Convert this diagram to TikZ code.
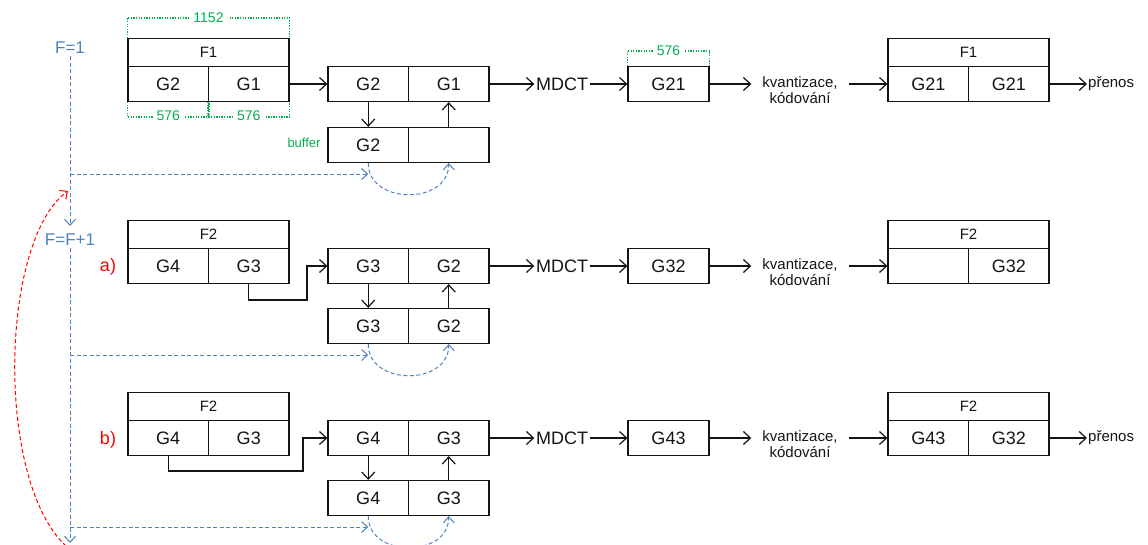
\documentclass[tikz,border=0pt]{standalone}
\usepackage{fontspec}
\setmainfont{Liberation Sans}
\usetikzlibrary{arrows.meta}
\definecolor{bluec}{RGB}{79,129,189}
\definecolor{greenc}{RGB}{0,176,80}
\definecolor{redc}{RGB}{255,0,0}
\definecolor{ink}{RGB}{20,20,20}
\tikzset{
  cell/.style={draw=ink, line width=1.25pt, minimum width=80.5pt, minimum height=35pt, inner sep=0pt, text=ink, font=\fontsize{18}{18}\selectfont},
  hdr/.style={cell, minimum width=161pt, minimum height=28pt, font=\fontsize{15}{15}\selectfont},
  arr/.style={draw=ink, line width=1.2pt, -{Straight Barb[length=7pt,width=13pt]}},
  mdct/.style={inner sep=1.5pt, text=ink, font=\fontsize{18}{18}\selectfont},
  kv/.style={inner xsep=11pt, align=center, text=ink, font=\fontsize{15}{16}\selectfont},
  txt/.style={inner sep=1pt, text=ink, font=\fontsize{15}{15}\selectfont},
  gtxt/.style={text=greenc, inner sep=1pt, font=\fontsize{14}{14}\selectfont},
  gdot/.style={color=greenc, line width=1.3pt, dash pattern=on 1.3pt off 1.3pt},
  btxt/.style={text=bluec, inner sep=2pt, font=\fontsize{17}{17}\selectfont},
  bdash/.style={color=bluec, line width=1pt, dash pattern=on 4pt off 2.5pt},
  barr/.style={bdash, -{Straight Barb[length=6pt,width=11pt]}},
  rtxt/.style={text=redc, inner sep=1pt, font=\fontsize{18}{18}\selectfont},
  rarr/.style={color=redc, line width=1pt, dash pattern=on 4pt off 2.5pt, -{Straight Barb[length=6pt,width=11pt]}},
}
\begin{document}
\begin{tikzpicture}[x=1pt,y=-1pt]
\useasboundingbox (0,0) rectangle (1148,544);

% ---------- Row 1 ----------
\node[hdr]  (l1h) at (208.5,52.5) {F1};
\node[cell] (l1a) at (168.25,84) {G2};
\node[cell] (l1b) at (248.75,84) {G1};
\node[cell] (b1a) at (368.25,84) {G2};
\node[cell] (b1b) at (448.75,84) {G1};
\node[cell] (b1c) at (368.25,145) {G2};
\node[cell] (b1d) at (448.75,145) {};
\node[mdct] (m1) at (562,84) {MDCT};
\node[cell, minimum width=81pt] (g1) at (668.5,84) {G21};
\node[kv] (k1) at (800,90) {kvantizace,\\kódování};
\node[hdr]  (r1h) at (968.5,52.5) {F1};
\node[cell] (r1a) at (928.25,84) {G21};
\node[cell] (r1b) at (1008.75,84) {G21};
\node[txt, anchor=west] (p1) at (1087,84) {přenos};

\draw[arr] (l1b.east) -- (b1a.west);
\draw[arr] (b1a.south) -- (b1c.north);
\draw[arr] (b1d.north) -- (b1b.south);
\draw[arr] (b1b.east) -- (m1.west);
\draw[arr] (m1.east) -- (g1.west);
\draw[arr] (g1.east) -- (g1.east -| k1.west);
\draw[arr] (k1.east |- g1.east) -- (r1a.west);
\draw[arr] (r1b.east) -- (p1.west);

% green dimensions
\node[gtxt, font=\fontsize{13}{13}\selectfont] (buf) at (304,143) {buffer};
\draw[gdot] (l1h.north west) -- ++(0,-20) -| (l1h.north east);
\node[gtxt, fill=white, inner xsep=4pt] (d1152) at (208.5,18) {1152};
\draw[gdot] (l1a.south west) -- ++(0,15) -| (l1a.south east);
\draw[gdot] (l1b.south west) -- ++(0,15) -| (l1b.south east);
\node[gtxt, fill=white, inner xsep=4pt] (d576a) at (168.25,116) {576};
\node[gtxt, fill=white, inner xsep=4pt] (d576b) at (248.75,116) {576};
\draw[gdot] (g1.north west) -- ++(0,-15) -| (g1.north east);
\node[gtxt, fill=white, inner xsep=4pt] (d576c) at (668.5,51) {576};

% ---------- Row 2 ----------
\node[rtxt] (la) at (108,267) {a)};
\node[hdr]  (l2h) at (208.5,234.5) {F2};
\node[cell] (l2a) at (168.25,266) {G4};
\node[cell] (l2b) at (248.75,266) {G3};
\node[cell] (b2a) at (368.25,266) {G3};
\node[cell] (b2b) at (448.75,266) {G2};
\node[cell] (b2c) at (368.25,326) {G3};
\node[cell] (b2d) at (448.75,326) {G2};
\node[mdct] (m2) at (562,266) {MDCT};
\node[cell, minimum width=81pt] (g2) at (668.5,266) {G32};
\node[kv] (k2) at (800,272) {kvantizace,\\kódování};
\node[hdr]  (r2h) at (968.5,234.5) {F2};
\node[cell] (r2a) at (928.25,266) {};
\node[cell] (r2b) at (1008.75,266) {G32};

\coordinate (c2) at (307,300);
\draw[arr] (l2b.south) |- (c2) |- (b2a.west);
\draw[arr] (b2a.south) -- (b2c.north);
\draw[arr] (b2d.north) -- (b2b.south);
\draw[arr] (b2b.east) -- (m2.west);
\draw[arr] (m2.east) -- (g2.west);
\draw[arr] (g2.east) -- (g2.east -| k2.west);
\draw[arr] (k2.east |- g2.east) -- (r2a.west);

% ---------- Row 3 ----------
\node[rtxt] (lb) at (108,440) {b)};
\node[hdr]  (l3h) at (208.5,406.5) {F2};
\node[cell] (l3a) at (168.25,438) {G4};
\node[cell] (l3b) at (248.75,438) {G3};
\node[cell] (b3a) at (368.25,438) {G4};
\node[cell] (b3b) at (448.75,438) {G3};
\node[cell] (b3c) at (368.25,498) {G4};
\node[cell] (b3d) at (448.75,498) {G3};
\node[mdct] (m3) at (562,438) {MDCT};
\node[cell, minimum width=81pt] (g3) at (668.5,438) {G43};
\node[kv] (k3) at (800,444) {kvantizace,\\kódování};
\node[hdr]  (r3h) at (968.5,406.5) {F2};
\node[cell] (r3a) at (928.25,438) {G43};
\node[cell] (r3b) at (1008.75,438) {G32};
\node[txt, anchor=west] (p3) at (1087,438) {přenos};

\coordinate (c3) at (303,471);
\draw[arr] (l3a.south) |- (c3) |- (b3a.west);
\draw[arr] (b3a.south) -- (b3c.north);
\draw[arr] (b3d.north) -- (b3b.south);
\draw[arr] (b3b.east) -- (m3.west);
\draw[arr] (m3.east) -- (g3.west);
\draw[arr] (g3.east) -- (g3.east -| k3.west);
\draw[arr] (k3.east |- g3.east) -- (r3a.west);
\draw[arr] (r3b.east) -- (p3.west);

% ---------- blue control flow ----------
\node[btxt] (fa) at (70,48) {F=1};
\node[btxt] (fb) at (70,240) {F=F+1};
\coordinate (vend) at (70,543);
\draw[barr, shorten >=6pt] (fa.south) -- (fb.north);
\draw[barr] (fb.south) -- (vend);
\coordinate (h1) at (70,174);
\coordinate (h2) at (70,355);
\coordinate (h3) at (70,527);
\draw[barr] (h1) -- (h1 -| b1c.south);
\draw[barr] (h2) -- (h2 -| b2c.south);
\draw[barr] (h3) -- (h3 -| b3c.south);
\draw[barr] (b1c.south) .. controls +(0,42) and +(0,42) .. (b1d.south);
\draw[barr] (b2c.south) .. controls +(0,42) and +(0,42) .. (b2d.south);
\draw[barr] (b3c.south) .. controls +(0,42) and +(0,42) .. (b3d.south);

% ---------- red loop ----------
\coordinate (rs) at (66,546);
\coordinate (re) at (68,191);
\draw[rarr] (rs) .. controls (-5,480) and (0,240) .. (re);
\end{tikzpicture}
\end{document}
